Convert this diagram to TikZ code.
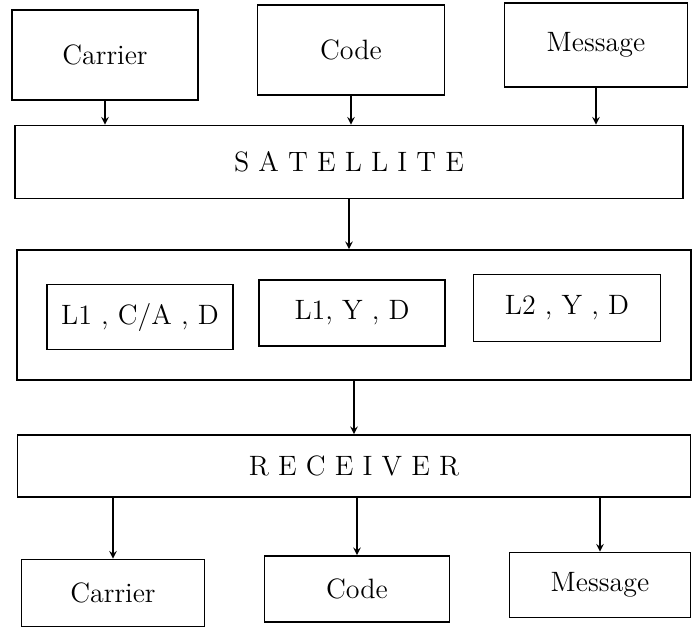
\documentclass[tikz,border=0pt]{standalone}
\usepackage{tikz}

\begin{document}
\begin{tikzpicture}[x=0.5pt,y=-0.5pt,>=stealth,
  box/.style={draw,line width=0.9pt,inner sep=0pt,font=\fontsize{14}{17}\selectfont}]

\useasboundingbox (0,0) rectangle (692,632);

\node [box,minimum width=93pt,minimum height=45pt] (carrier) at (105,55) {Carrier};
\node [box,minimum width=93.5pt,minimum height=45pt] (code) at (351,50) {Code};
\node [box,minimum width=91.5pt,minimum height=42pt] (message) at (596,45) {Message};

\node [box,minimum width=334pt,minimum height=36.5pt] (satellite) at (349,162) {S A T E L L I T E};

\node [box,minimum width=337pt,minimum height=65pt] (signal) at (354,315) {};
\node [box,minimum width=93pt,minimum height=32.5pt] (lca) at (140,317) {L1 , C/A , D};
\node [box,minimum width=93pt,minimum height=33pt] (lyone) at (352,313) {L1, Y , D};
\node [box,minimum width=93.5pt,minimum height=33.5pt] (lytwo) at (567,308) {L2 , Y , D};

\node [box,minimum width=336.5pt,minimum height=31pt] (receiver) at (354,466) {R E C E I V E R};

\node [box,minimum width=91.5pt,minimum height=33.5pt] (rcarrier) at (113,593) {Carrier};
\node [box,minimum width=92.5pt,minimum height=33pt] (rcode) at (357,589) {Code};
\node [box,minimum width=90.5pt,minimum height=32.5pt] (rmessage) at (600,585) {Message};

\draw [->,line width=0.7pt] (carrier.south) -- (carrier.south |- satellite.north);
\draw [->,line width=0.7pt] (code.south) -- (code.south |- satellite.north);
\draw [->,line width=0.7pt] (message.south) -- (message.south |- satellite.north);

\draw [->,line width=0.7pt] (satellite.south) -- (satellite.south |- signal.north);
\draw [->,line width=0.7pt] (signal.south) -- (signal.south |- receiver.north);

\draw [->,line width=0.7pt] (rcarrier.north |- receiver.south) -- (rcarrier.north);
\draw [->,line width=0.7pt] (rcode.north |- receiver.south) -- (rcode.north);
\draw [->,line width=0.7pt] (rmessage.north |- receiver.south) -- (rmessage.north);

\end{tikzpicture}
\end{document}
